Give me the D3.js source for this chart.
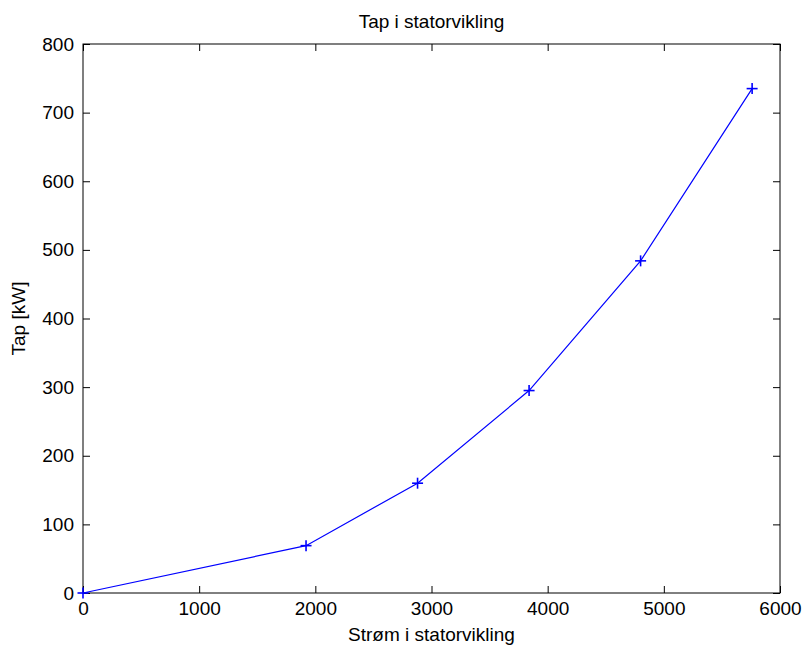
<!DOCTYPE html>
<html>
<head>
<meta charset="utf-8">
<script src="https://cdn.jsdelivr.net/npm/d3@7"></script>
<style>
  html, body { margin: 0; padding: 0; background: #fff; }
  svg { display: block; }
  text { font-family: "Liberation Sans", Arial, sans-serif; fill: #000; }
</style>
</head>
<body>
<svg id="chart" width="803" height="651"></svg>
<script>
// Stator winding current (A) and corresponding loss (kW)
const current = [0, 1920, 2880, 3840, 4800, 5760];
const loss = [0, 69, 160, 295, 484, 735];
const xTicks = [0, 1000, 2000, 3000, 4000, 5000, 6000];
const yTicks = [0, 100, 200, 300, 400, 500, 600, 700, 800];

const titleText = "Tap i statorvikling";
const xLabelText = "Strøm i statorvikling";
const yLabelText = "Tap [kW]";

const svg = d3.select("#chart");
const W = 803, H = 651;
const plot = { left: 83, right: 780, top: 44, bottom: 593 };

svg.append("rect").attr("width", W).attr("height", H).attr("fill", "#fff");

const x = d3.scaleLinear().domain([0, 6000]).range([plot.left, plot.right]);
const y = d3.scaleLinear().domain([0, 800]).range([plot.bottom, plot.top]);

const tickLen = 7;
const fs = 19;

// Bottom axis with inward ticks
const gx = svg.append("g").attr("transform", `translate(0,${plot.bottom})`)
  .call(d3.axisBottom(x).tickValues(xTicks).tickSizeInner(-tickLen).tickSizeOuter(0).tickPadding(9).tickFormat(d3.format("d")));
// Top axis (ticks only)
const gxt = svg.append("g").attr("transform", `translate(0,${plot.top})`)
  .call(d3.axisTop(x).tickValues(xTicks).tickSizeInner(-tickLen).tickSizeOuter(0).tickFormat(""));
// Left axis with inward ticks
const gy = svg.append("g").attr("transform", `translate(${plot.left},0)`)
  .call(d3.axisLeft(y).tickValues(yTicks).tickSizeInner(-tickLen).tickSizeOuter(0).tickPadding(9).tickFormat(d3.format("d")));
// Right axis (ticks only)
const gyr = svg.append("g").attr("transform", `translate(${plot.right},0)`)
  .call(d3.axisRight(y).tickValues(yTicks).tickSizeInner(-tickLen).tickSizeOuter(0).tickFormat(""));

[gx, gxt, gy, gyr].forEach(g => {
  g.select(".domain").remove();
  g.selectAll(".tick line").attr("stroke", "#000").attr("stroke-width", 1);
  g.selectAll("text").attr("font-size", fs).attr("font-family", "Liberation Sans, Arial, sans-serif").attr("fill", "#000");
});
gx.selectAll("text").attr("dy", "0.71em");
// Plot box
svg.append("rect")
  .attr("x", plot.left).attr("y", plot.top)
  .attr("width", plot.right - plot.left).attr("height", plot.bottom - plot.top)
  .attr("fill", "none").attr("stroke", "#000").attr("stroke-width", 1);

// Data line
const pts = current.map((c, i) => [c, loss[i]]);
svg.append("path")
  .datum(pts)
  .attr("fill", "none")
  .attr("stroke", "#0000ff")
  .attr("stroke-width", 1.2)
  .attr("d", d3.line().x(d => x(d[0])).y(d => y(d[1])));

// Plus markers
const m = 5.5;
const markers = svg.append("g").attr("stroke", "#0000ff").attr("stroke-width", 1.6);
pts.forEach(d => {
  const px = x(d[0]), py = y(d[1]);
  markers.append("line").attr("x1", px - m).attr("x2", px + m).attr("y1", py).attr("y2", py);
  markers.append("line").attr("x1", px).attr("x2", px).attr("y1", py - m).attr("y2", py + m);
});

// Title and axis labels
svg.append("text").attr("x", (plot.left + plot.right) / 2).attr("y", 28)
  .attr("text-anchor", "middle").attr("font-size", fs).text(titleText);
svg.append("text").attr("x", (plot.left + plot.right) / 2).attr("y", 641)
  .attr("text-anchor", "middle").attr("font-size", fs).text(xLabelText);
svg.append("text")
  .attr("transform", `translate(25,${(plot.top + plot.bottom) / 2}) rotate(-90)`)
  .attr("text-anchor", "middle").attr("font-size", fs).text(yLabelText);
</script>
</body>
</html>
